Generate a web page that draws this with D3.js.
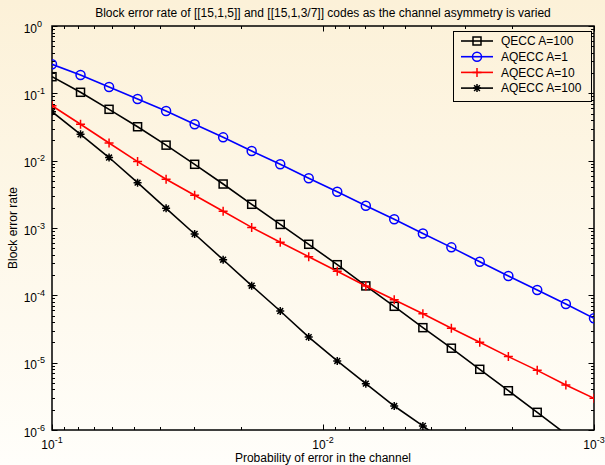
<!DOCTYPE html>
<html lang="en">
<head>
  <meta charset="UTF-8">
  <title>Block error rate vs channel error probability</title>
  <script src="https://d3js.org/d3.v7.min.js"></script>
  <style>
    body {
      margin: 0;
      font-family: "Liberation Sans", Arial, sans-serif;
    }
    svg text {
      font-family: "Liberation Sans", Arial, sans-serif;
      fill: #000;
    }
  </style>
</head>
<body>
<svg width="605" height="465"></svg>

<script>
  // channel error probabilities (log spaced, 0.1 down to 0.001)
  const pValues = [0.1, 0.07848, 0.06158, 0.04833, 0.03793, 0.02976, 0.02336, 0.01833,
    0.01438, 0.01129, 0.00886, 0.00695, 0.00546, 0.00428, 0.00336, 0.00264,
    0.00207, 0.00162, 0.00127, 0.001];

  const qeccA100 = [0.1766, 0.1036, 0.0579, 0.0319, 0.0170, 0.00883, 0.00450, 0.00225,
    0.00113, 5.73e-4, 2.85e-4, 1.38e-4, 6.87e-5, 3.31e-5, 1.64e-5, 7.97e-6,
    3.83e-6, 1.83e-6, 8.7e-7];

  const aqeccA1 = [0.270, 0.187, 0.124, 0.0824, 0.0547, 0.0347, 0.0222, 0.0139,
    0.00883, 0.00548, 0.00346, 0.00214, 0.00135, 8.28e-4, 5.16e-4, 3.16e-4,
    1.94e-4, 1.20e-4, 7.43e-5, 4.56e-5];

  const aqeccA10 = [0.0655, 0.0347, 0.0183, 0.00968, 0.00529, 0.00306, 0.00177, 0.00102,
    6.13e-4, 3.75e-4, 2.28e-4, 1.38e-4, 8.61e-5, 5.33e-5, 3.25e-5, 2.01e-5,
    1.23e-5, 7.69e-6, 4.66e-6, 2.96e-6];

  const aqeccA100 = [0.0533, 0.0246, 0.01114, 0.00471, 0.00196, 8.15e-4, 3.38e-4, 1.39e-4,
    5.85e-5, 2.40e-5, 1.06e-5, 4.88e-6, 2.27e-6, 1.15e-6, 5.7e-7];

  const seriesNames = ["QECC A=100", "AQECC A=1", "AQECC A=10", "AQECC A=100"];
  const xTickLabels = ["-1", "-2", "-3"];
  const yTickLabels = ["0", "-1", "-2", "-3", "-4", "-5", "-6"];

  const series = [
    { name: seriesNames[0], values: qeccA100, color: "#000000", marker: "square" },
    { name: seriesNames[1], values: aqeccA1, color: "#0000ff", marker: "circle" },
    { name: seriesNames[2], values: aqeccA10, color: "#ff0000", marker: "plus" },
    { name: seriesNames[3], values: aqeccA100, color: "#000000", marker: "star" }
  ];

  const svg = d3.select("svg");
  const plotLeft = 52, plotRight = 594, plotTop = 26, plotBottom = 430;

  // cream background gradient
  const defs = svg.append("defs");
  const grad = defs.append("linearGradient")
    .attr("id", "bg").attr("x1", 0).attr("y1", 0).attr("x2", 0).attr("y2", 1);
  grad.append("stop").attr("offset", "0%").attr("stop-color", "#fcf1d8");
  grad.append("stop").attr("offset", "100%").attr("stop-color", "#fffefa");
  svg.append("rect").attr("width", 605).attr("height", 465).attr("fill", "url(#bg)");

  defs.append("clipPath").attr("id", "plotClip")
    .append("rect").attr("x", plotLeft).attr("y", plotTop)
    .attr("width", plotRight - plotLeft).attr("height", plotBottom - plotTop);

  const x = d3.scaleLog().domain([1e-1, 1e-3]).range([plotLeft, plotRight]);
  const y = d3.scaleLog().domain([1e-6, 1]).range([plotBottom, plotTop]);

  // ticks (inward, on all four sides)
  const isMajor = v => Math.abs(Math.log10(v) - Math.round(Math.log10(v))) < 1e-9;
  const ticks = svg.append("g").attr("stroke", "#000").attr("stroke-width", 1);
  x.ticks().forEach(v => {
    const len = isMajor(v) ? 5.5 : 3;
    const px = Math.round(x(v)) + 0.5;
    ticks.append("line").attr("x1", px).attr("x2", px).attr("y1", plotBottom).attr("y2", plotBottom - len);
    ticks.append("line").attr("x1", px).attr("x2", px).attr("y1", plotTop).attr("y2", plotTop + len);
  });
  y.ticks().forEach(v => {
    const len = isMajor(v) ? 5.5 : 3;
    const py = Math.round(y(v)) + 0.5;
    ticks.append("line").attr("y1", py).attr("y2", py).attr("x1", plotLeft).attr("x2", plotLeft + len);
    ticks.append("line").attr("y1", py).attr("y2", py).attr("x1", plotRight).attr("x2", plotRight - len);
  });

  svg.append("rect")
    .attr("x", plotLeft).attr("y", plotTop)
    .attr("width", plotRight - plotLeft).attr("height", plotBottom - plotTop)
    .attr("fill", "none").attr("stroke", "#000").attr("stroke-width", 1.5);

  // tick labels
  [1e-1, 1e-2, 1e-3].forEach((v, i) => {
    const t = svg.append("text")
      .attr("x", x(v)).attr("y", 449)
      .attr("text-anchor", "middle")
      .style("font-size", "12px");
    t.append("tspan").text("10");
    t.append("tspan").attr("dy", -6).style("font-size", "9px").text(xTickLabels[i]);
  });
  yTickLabels.forEach((lab, i) => {
    const py = y(Math.pow(10, -i));
    svg.append("text")
      .attr("x", 37).attr("y", py + 6.5)
      .attr("text-anchor", "end")
      .style("font-size", "12px")
      .text("10");
    svg.append("text")
      .attr("x", 37).attr("y", py + 0.5)
      .style("font-size", "9px")
      .text(lab);
  });

  // axis labels and title
  svg.append("text")
    .attr("x", 323).attr("y", 17)
    .attr("text-anchor", "middle")
    .style("font-size", "12px")
    .text("Block error rate of [[15,1,5]] and [[15,1,3/7]] codes as the channel asymmetry is varied");

  svg.append("text")
    .attr("x", 323).attr("y", 462)
    .attr("text-anchor", "middle")
    .style("font-size", "12px")
    .text("Probability of error in the channel");

  svg.append("text")
    .attr("transform", "translate(17," + ((plotTop + plotBottom) / 2) + ") rotate(-90)")
    .attr("text-anchor", "middle")
    .style("font-size", "12px")
    .text("Block error rate");

  function drawMarker(g, type, cx, cy, color) {
    if (type === "square") {
      g.append("rect").attr("x", cx - 4).attr("y", cy - 4).attr("width", 8).attr("height", 8)
        .attr("fill", "none").attr("stroke", color).attr("stroke-width", 1.5);
    } else if (type === "circle") {
      g.append("circle").attr("cx", cx).attr("cy", cy).attr("r", 4.5)
        .attr("fill", "none").attr("stroke", color).attr("stroke-width", 1.5);
    } else if (type === "plus") {
      g.append("path").attr("d", `M${cx - 4.5},${cy}H${cx + 4.5}M${cx},${cy - 4.5}V${cy + 4.5}`)
        .attr("stroke", color).attr("stroke-width", 1.5);
    } else if (type === "star") {
      const r = 4, d = 2.9;
      g.append("path")
        .attr("d", `M${cx - r},${cy}H${cx + r}M${cx},${cy - r}V${cy + r}` +
          `M${cx - d},${cy - d}L${cx + d},${cy + d}M${cx - d},${cy + d}L${cx + d},${cy - d}`)
        .attr("stroke", color).attr("stroke-width", 1.5);
    }
  }

  const plot = svg.append("g").attr("clip-path", "url(#plotClip)");
  const line = d3.line().x(d => x(d[0])).y(d => y(d[1]));

  series.forEach(s => {
    const pts = s.values.map((v, i) => [pValues[i], v]);
    plot.append("path")
      .datum(pts)
      .attr("d", line)
      .attr("fill", "none")
      .attr("stroke", s.color)
      .attr("stroke-width", 1.6);
    const mg = plot.append("g");
    pts.filter(d => d[1] >= 1e-6).forEach(d => drawMarker(mg, s.marker, x(d[0]), y(d[1]), s.color));
  });

  // legend
  const legend = svg.append("g");
  legend.append("rect")
    .attr("x", 453.5).attr("y", 31.5).attr("width", 138).attr("height", 70)
    .attr("fill", "none").attr("stroke", "#000").attr("stroke-width", 1);
  series.forEach((s, i) => {
    const ly = 41 + i * 15.7;
    legend.append("line")
      .attr("x1", 461).attr("x2", 493).attr("y1", ly).attr("y2", ly)
      .attr("stroke", s.color).attr("stroke-width", 1.6);
    drawMarker(legend, s.marker, 477, ly, s.color);
    legend.append("text")
      .attr("x", 501).attr("y", ly + 4.3)
      .style("font-size", "12px")
      .text(s.name);
  });
</script>

</body>
</html>
